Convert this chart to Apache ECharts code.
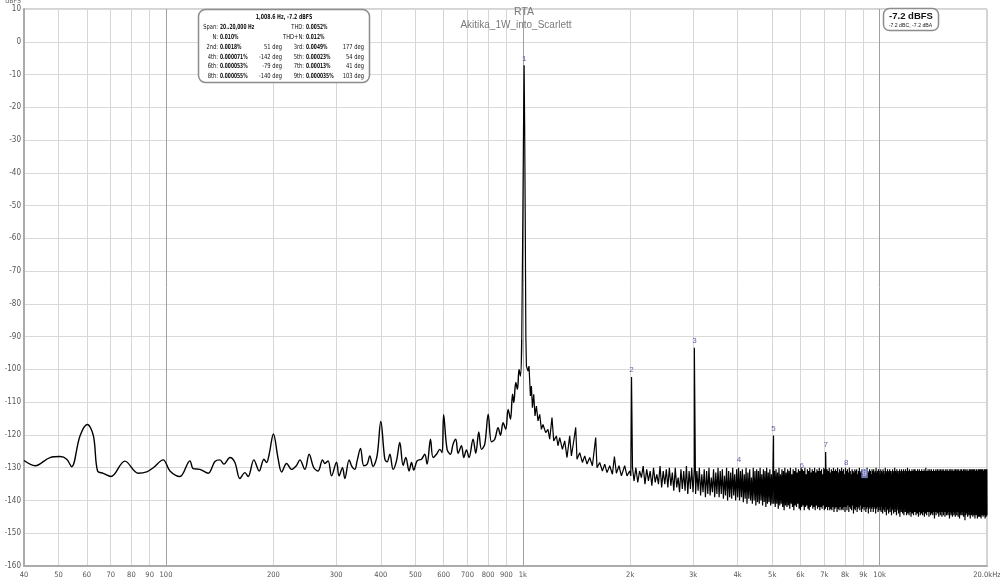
<!DOCTYPE html>
<html><head><meta charset="utf-8">
<script src="https://cdn.jsdelivr.net/npm/echarts@6/dist/echarts.min.js"></script>
<style>html,body{margin:0;padding:0;background:#fff}#c{width:1000px;height:580px}</style>
</head><body><div id="c"></div>
<script>
// ---------- axis ticks ----------
const xTickHz = [40,50,60,70,80,90,100,200,300,400,500,600,700,800,900,1000,2000,3000,4000,5000,6000,7000,8000,9000,10000,20000];
const xTickLabels = ['40','50','60','70','80','90','100','200','300','400','500','600','700','800','900','1k','2k','3k','4k','5k','6k','7k','8k','9k','10k','20.0kHz'];
const majorGridHz = [100,1000,10000];
const yMin = -160, yMax = 10, yStep = 10;

// ---------- traced spectrum 40 Hz .. 2 kHz (Hz, dBFS) ----------
const traceHz = [40,43,47.3,50.5,52.7,54.4,57.4,60.2,62.6,64.3,66.7,70.1,76.7,83.6,88.3,92.1,98.2,102.6,109.4,116.7,
119.2,124.5,131.3,137.1,141.6,145.3,151.1,156.0,161.1,166.4,169.9,176.3,182.5,188.1,191.4,194.6,200,206.3,210.9,217.8,
224.9,232.3,237.3,245.1,251.9,259.6,266.9,274.6,278.7,284.7,291.1,300.6,305.5,312.4,317.1,326.1,331.8,338.2,343.3,350.9,
358.4,366.2,372.6,380.6,390.5,400,410.5,416.6,424.0,433.0,442.6,452.2,461.9,470.0,480.1,487.6,494.9,505.5,520.1,531.3,
539.3,551.2,560.5,573.0,585.3,594.1,600,613.5,627.1,637.7,648.9,658.6,673.2,683.3,695.2,707.0,725.5,738.3,752.7,765.9,
782.4,800,817.0,834.6,852.6,866.0,880.6,896.0,909.5,923.8,935.8,943.5,955.8,966.1,976.1,985.0,993.2,1000,1005,1008.6,
1012,1016,1020,1023.7,1034.2,1041,1050.4,1057.2,1064.1,1073,1082,1091.8,1103.1,1115.3,1127.5,1139.2,1159.2,1176.6,1189.6,1207.4,
1220.8,1242.1,1255,1269,1291.3,1310.7,1330.2,1353.5,1368.5,1382.8,1407.1,1419,1443.9,1469.3,1491.2,1513.6,1540,1567.1,1600.7,1614.4,
1642.6,1671.5,1696.7,1721.9,1752.2,1783,1806.1,1829.5,1860.5,1889.4,1930.2,1959,1993.3,2008,2030];
const traceDb = [-127.8,-129.4,-126.9,-126.6,-127.4,-129.7,-120.3,-116.8,-120.3,-131.0,-131.7,-132.7,-128.0,-131.7,-131.3,-130.0,-127.6,-131.0,-132.7,-127.9,
-130.3,-130.5,-131.7,-128.1,-127.6,-128.9,-126.9,-128.4,-133.3,-131.5,-132.7,-127.6,-131.0,-127.4,-128.4,-125.9,-119.7,-127.4,-131.3,-128.7,
-130.5,-129.3,-127.6,-130.5,-125.9,-130.0,-131.0,-127.6,-128.7,-127.9,-132.5,-128.3,-132.5,-130.0,-133.3,-127.6,-129.6,-130.5,-127.9,-124.1,
-129.4,-128.9,-126.4,-129.6,-126.4,-115.9,-127.4,-128.2,-125.9,-130.5,-127.9,-122.3,-129.3,-126.9,-131.0,-128.4,-130.7,-127.9,-127.4,-125.9,
-128.9,-121.3,-126.9,-125.9,-124.4,-125.4,-113.8,-124.4,-125.9,-122.8,-121.3,-125.6,-123.3,-126.9,-124.6,-126.9,-121.3,-125.6,-119.1,-124.4,
-122.8,-113.7,-122.1,-121.3,-117.8,-120.1,-116.3,-118.3,-112.2,-115.2,-107.6,-110.1,-104.0,-106.1,-100.0,-102.0,-91,-55,-25,-7.2,
-25,-55,-90,-99.0,-100.5,-99.0,-108.1,-105.1,-111.7,-107.6,-114.2,-111.2,-115.7,-113.7,-118.3,-116.8,-119.3,-118.3,-121.3,-114.7,
-121.8,-120.3,-123.3,-120.8,-124.4,-121.8,-126.9,-120.3,-126.4,-123.3,-117.7,-127.4,-125.4,-128.4,-126.4,-128.9,-126.9,-129.4,-120.8,-130.0,
-128.4,-131.0,-128.9,-131.5,-129.4,-132.0,-126.6,-131.7,-129.4,-132.5,-129.4,-132.5,-131.0,-132.5,-130];
const smoothEndHz = 993.2; // below this the analyser trace is drawn as a smoothed curve

// ---------- FFT noise floor 2050 Hz .. 20 kHz, bins every 25 Hz (dBFS) ----------
const noiseStartHz = 2050, noiseStepHz = 25;
const noiseDb = [
-134,-130,-134.5,-131,-133,-129.5,-135,-130.5,-134,-131,-135.5,-130,-134.5,-132,-135,-129.5,-136,-131,-135,-130.5,
-136,-130,-135.5,-131.5,-137,-130,-136,-133,-137.5,-130.5,-136.5,-131,-137,-129.5,-138,-131,-136.5,-130,-137.5,-130.5,
-138,-131,-137,-130,-138.5,-132,-137.5,-130.5,-139,-131,-138,-130,-138.5,-133,-137.5,-130.5,-139,-131.5,-138,-130,
-139,-131,-138,-130.5,-139.5,-132.5,-138.5,-130,-140,-131,-139,-131.5,-139.5,-130,-138.5,-132,-140,-130.5,-139,-130,
-140,-131,-139,-130.5,-140.5,-132,-139.5,-130,-141,-131.5,-139.5,-130.5,-140,-133,-141,-130,-140,-131,-141.5,-130.5,
-140.5,-131,-141,-130,-140,-132,-141.5,-130.5,-140.5,-131,-142,-130,-141,-131.5,-140.5,-130.5,-141.5,-132,-141,-130,
-141,-131,-142,-130.5,-141,-131.5,-142.5,-130,-141.5,-132,-141,-130.5,-142,-131,-143,-130,-141.5,-131.5,-142,-130.5,
-141.5,-131,-142.5,-130,-141,-132,-142,-130.5,-143,-131,-141.5,-130,-142,-131.5,-141,-130.5,-142.5,-131,-143,-130,
-142,-130.5,-141.5,-131,-143,-130,-142,-132,-141.5,-130.5,-142.5,-131,-143,-130,-142,-131.5,-141.5,-130.5,-142.5,-131,
-142,-130,-143,-131.5,-141.5,-130.5,-142.5,-131,-142,-130,-143,-131,-142,-130.5,-142.5,-132,-141.5,-130,-143,-130.5,
-142.5,-131,-142,-130.5,-143,-131,-142,-130,-143,-131.5,-142.5,-130.5,-143,-131,-142,-130,-143.5,-131,-142.5,-130.5,
-142,-131,-143.5,-130,-142.5,-131.5,-143,-130.5,-142,-131,-143,-130,-142.5,-131,-143,-130.5,-142,-132,-143.5,-130,
-142,-131,-143,-130.5,-141.5,-131.5,-143.5,-130,-142,-131,-142.5,-132,-143,-130.5,-141.5,-131,-144,-131.5,-142.5,-130.5,
-143,-131,-142,-130.5,-143.5,-132,-142.5,-131,-142,-130,-143,-131.5,-141.5,-131,-143.5,-130.5,-142.5,-131,-142,-132,
-143,-130.5,-142,-131,-143.5,-131.5,-142.5,-130,-142,-131,-144,-131.5,-142.5,-130.5,-142,-131,-143.5,-132,-142.5,-130.5,
-142,-131,-143.5,-130.5,-142.5,-131.5,-142,-131,-144,-130,-142.5,-131.5,-142,-131,-143.5,-130.5,-143,-131,-142,-132,
-143,-130.5,-143.5,-131,-142,-131.5,-144,-130.5,-142.5,-131,-143,-132,-143.5,-130,-142,-131,-144.5,-131.5,-143,-130.5,
-142.5,-131,-144,-131.5,-142.5,-130.5,-143.5,-131,-142,-132,-144.5,-131,-143,-130.5,-142.5,-131.5,-144,-131,-142.5,-130,
-143.5,-131,-142.5,-131.5,-144.5,-130.5,-143,-131,-142,-132,-144,-131,-142.5,-130.5,-145,-131.5,-143,-131,-143.5,-130.5,
-142.5,-131.5,-144,-131,-143,-130.5,-144.5,-132,-142.5,-131,-143.5,-130.5,-142,-131.5,-144.5,-131,-143,-130,-144,-131.5,
-143,-131,-144.5,-130.5,-142.5,-131.5,-143.5,-131,-145,-132,-142.5,-130.5,-144,-131,-143,-131.5,-144.5,-130.5,-142.5,-131,
-143.5,-130.5,-143,-131.5,-144.5,-131,-142.5,-132,-144,-130.5,-143,-131,-145,-131.5,-142.5,-130.5,-143.5,-131,-144.5,-131.5,
-143,-131,-144,-130.5,-142.5,-131.5,-144.5,-131,-143,-132,-143.5,-130.5,-145,-131,-142.5,-131.5,-144,-130,-143,-131,
-144.5,-131.5,-143,-131,-143.5,-130.5,-142.5,-132,-145,-131,-143.5,-130.5,-143,-131.5,-144.5,-131,-142.5,-130.5,-144,-131,
-143,-131.5,-144.5,-131,-143.5,-130.5,-142.5,-131,-145.5,-132,-143.5,-131,-143,-130.5,-144.5,-131.5,-143.5,-131,-143,-130.5,
-144,-131,-143,-131.5,-145,-130.5,-143.5,-132,-142.5,-131,-144.5,-130.5,-143.5,-131.5,-143,-131,-145,-130.5,-143.5,-131.5,
-143,-131,-144.5,-130.5,-143.5,-131.5,-143,-131,-145,-132,-143.5,-130.5,-142.5,-131,-144.5,-131.5,-144,-130.5,-143,-131,
-144.5,-131.5,-143.5,-131,-143,-130.5,-145.5,-131,-143.5,-132,-143,-130.5,-144.5,-131.5,-144,-131,-143,-130.5,-145,-131,
-143.5,-131,-143,-131.5,-144.5,-130.5,-144,-132,-143,-131,-145,-130.5,-143.5,-131.5,-143,-131,-144.5,-130.5,-143.5,-131.5,
-143,-131,-145,-130.5,-143.5,-131.5,-143,-131,-145.5,-132,-144,-130.5,-143,-131,-144.5,-131.5,-143.5,-130.5,-143,-131,
-144.5,-131.5,-143.5,-131,-143,-130.5,-145,-132,-143.5,-131,-143,-130.5,-146,-131.5,-143.5,-131,-144.5,-130.5,-143,-131,
-144,-131,-143,-131.5,-145,-130.5,-143.5,-131,-143,-132,-144.5,-131,-144,-130.5,-143,-131.5,-145.5,-131,-143.5,-130.5,
-143,-131.5,-144.5,-131,-144,-130.5,-143,-132,-145,-131,-143.5,-130.5,-143,-131.5,-144.5,-131,-143.5,-130.5,-145.5,-131,
-143.5,-131,-143,-131.5,-144.5,-130.5,-144,-131,-143,-132,-145.5,-131,-143.5,-130.5,-143,-131.5,-145,-131,-143.5,-130.5,
-143,-131.5,-145,-131,-143.5,-130.5,-143,-132,-145.5,-131,-144,-130.5,-143,-131.5,-144.5,-131,-143.5,-130.5,-145,-131,
-143.5,-131,-143,-131.5,-144.5,-130.5,-143.5,-131,-145.5,-132,-144,-130.5,-143,-131,-145,-131.5,-143.5,-130.5,-144.5
];

// ---------- harmonics ----------
const harmonicNo = ['1','2','3','4','5','6','7','8','9'];
const harmonicHz = [1008.6,2017.2,3025.8,4034.4,5043.0,6051.6,7060.2,8068.8,9077.4];
const harmonicDb = [-7.2,-102.3,-93.4,-130.2,-120.2,-132.7,-125.2,-132.4,-136.3];
const markerDb   = [-7.2,-102.3,-93.4,-129.7,-120.2,-131.5,-125.2,-130.6,-134.1];

// ---------- text ----------
const titleMain = 'RTA';
const titleSub = 'Akitika_1W_into_Scarlett';
const infoHeader = '1,008.6 Hz, -7.2 dBFS';
const infoRows = [
  ['Span:','20..20,000 Hz','','THD:','0.0052%',''],
  ['N:','0.010%','','THD+N:','0.012%',''],
  ['2nd:','0.0018%','51 deg','3rd:','0.0049%','177 deg'],
  ['4th:','0.000071%','-142 deg','5th:','0.00023%','54 deg'],
  ['6th:','0.000053%','-79 deg','7th:','0.00013%','41 deg'],
  ['8th:','0.000055%','-140 deg','9th:','0.000035%','103 deg']
];
const levelMain = '-7.2 dBFS';
const levelSub = '-7.2 dBC, -7.2 dBA';

// ---------- build ----------
const L = Math.log10;
const LOG_MIN = L(xTickHz[0]), LOG_MAX = L(xTickHz[xTickHz.length-1]);
const pts = [];
traceHz.forEach((f,i)=>pts.push([f, traceDb[i]]));
noiseDb.forEach((d,i)=>pts.push([noiseStartHz + i*noiseStepHz, d]));
harmonicHz.forEach((f,i)=>{ if(i>0) pts.push([f, harmonicDb[i]]); });
pts.sort((a,b)=>a[0]-b[0]);
const lowData = pts.filter(p=>p[0]<=smoothEndHz).map(p=>[L(p[0]), p[1]]);
const highData = pts.filter(p=>p[0]>=smoothEndHz).map(p=>[L(p[0]), p[1]]);

const tickLogs = xTickHz.map(L);
const minorLogs = xTickHz.filter((f,i)=>i>0 && i<xTickHz.length-1 && majorGridHz.indexOf(f)<0).map(L);
const majorLogs = majorGridHz.map(L);
function fmtX(v){ let best=0, bd=1e9; tickLogs.forEach((t,i)=>{const d=Math.abs(t-v); if(d<bd){bd=d;best=i;}}); return xTickLabels[best]; }

const NARROW = '"Liberation Sans Narrow","DejaVu Sans Condensed",Arial,sans-serif';
const SANS = '"Liberation Sans",Arial,sans-serif';

const graphics = [];
function txt(x, y, text, o){
  return {type:'text', x:x, y:y, z:11, scaleX:o.sx||1,
    style:{text:text, fill:o.fill||'#111', fontSize:o.fs, fontWeight:o.fw||'normal', fontFamily:o.ff||SANS,
      textAlign:o.al||'center', align:o.al||'center', textVerticalAlign:'middle', verticalAlign:'middle'}};
}
// title
graphics.push(txt(524, 12, titleMain, {fill:'#7a7a7a', fs:10.5}));
graphics.push(txt(516, 25, titleSub, {fill:'#7a7a7a', fs:10}));
// info box
graphics.push({type:'rect', z:10, shape:{x:198.5, y:9.5, width:171, height:73, r:7}, style:{fill:'#fff', stroke:'#8c8c8c', lineWidth:1.5}});
graphics.push(txt(284, 17.5, infoHeader, {fs:7, fw:'bold', ff:NARROW, sx:0.74}));
const infoCols = [[218,'right','normal'],[220,'left','bold'],[282,'right','normal'],[304,'right','normal'],[306,'left','bold'],[364,'right','normal']];
const infoRowY = [26.7,37,47.5,57,66.5,76.3];
infoRows.forEach((row,r)=>row.forEach((t,c)=>{ if(!t) return;
  const bold = infoCols[c][2]==='bold';
  graphics.push(txt(infoCols[c][0], infoRowY[r], t, {fs:7, fw:infoCols[c][2], ff:NARROW, al:infoCols[c][1], sx: bold?0.7:0.82}));
}));
// level box
graphics.push({type:'rect', z:10, shape:{x:883.5, y:8.5, width:55, height:22, r:6}, style:{fill:'#fff', stroke:'#8c8c8c', lineWidth:1.5}});
graphics.push(txt(911, 16.5, levelMain, {fs:9.5, fw:'bold'}));
graphics.push(txt(910.5, 25.8, levelSub, {fs:5.2, fill:'#222'}));

const markerData = harmonicHz.map((f,i)=>{
  const d = {value:[L(f), markerDb[i]], name:harmonicNo[i]};
  if (i===8) d.label = {backgroundColor:'#8c93dc', color:'#e8eaff', padding:[1,1,0,1]};
  return d;
});

const chart = echarts.init(document.getElementById('c'), null, {renderer:'canvas'});
chart.setOption({
  animation:false,
  backgroundColor:'#fff',
  grid:{left:24, right:13, top:9, bottom:14, show:true, borderColor:'#a8a8a8', borderWidth:1, backgroundColor:'#fff', outerBoundsMode:'none'},
  xAxis:[{
    type:'value', min:LOG_MIN, max:LOG_MAX, position:'bottom',
    axisLine:{show:true, onZero:false, lineStyle:{color:'#ababab', width:2}},
    axisTick:{show:false, customValues:minorLogs},
    axisLabel:{customValues:tickLogs, formatter:fmtX, color:'#555', fontSize:7.5, fontFamily:NARROW, margin:5, hideOverlap:false},
    splitLine:{show:true, lineStyle:{color:'#d6d6d6', width:1}}
  },{
    type:'value', min:LOG_MIN, max:LOG_MAX, position:'bottom',
    axisLine:{show:false}, axisTick:{show:false, customValues:majorLogs},
    axisLabel:{show:false},
    splitLine:{show:true, lineStyle:{color:'#a0a0a0', width:1}}
  }],
  yAxis:{
    type:'value', min:yMin, max:yMax, interval:yStep,
    name:'dBFS', nameLocation:'end', nameGap:3,
    nameTextStyle:{color:'#666', fontSize:7, fontFamily:NARROW, align:'right', verticalAlign:'bottom', padding:[0,3,0,0]},
    axisLine:{show:true, onZero:false, lineStyle:{color:'#ababab', width:2}},
    axisTick:{show:false},
    axisLabel:{color:'#555', fontSize:8, fontFamily:NARROW, margin:3},
    splitLine:{show:true, lineStyle:{color:'#d9d9d9', width:1}}
  },
  series:[{
    type:'line', xAxisIndex:0, yAxisIndex:0, data:lowData, showSymbol:false, symbol:'none', smooth:0.35,
    lineStyle:{color:'#000', width:1.4}, silent:true, z:3, clip:true
  },{
    type:'line', xAxisIndex:0, yAxisIndex:0, data:highData, showSymbol:false, symbol:'none',
    lineStyle:{color:'#000', width:1.2}, silent:true, z:3, clip:true
  },{
    type:'scatter', xAxisIndex:0, yAxisIndex:0, data:markerData, symbolSize:0, silent:true, z:4,
    label:{show:true, position:'top', distance:3, formatter:p=>p.name, color:'#3a3a90', fontSize:8, fontFamily:SANS}
  }],
  graphic:graphics
});
</script>
</body></html>
